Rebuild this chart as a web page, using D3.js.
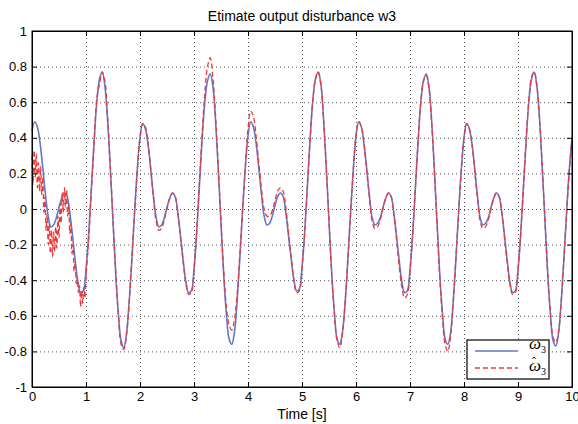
<!DOCTYPE html>
<html>
<head>
<meta charset="utf-8">
<script src="https://cdn.jsdelivr.net/npm/d3@7"></script>
<style>
    body { margin: 0; background: #fff; }
    text { font-family: "Liberation Sans", Arial, sans-serif; }
</style>
</head>
<body>
<div id="chart"></div>
<script>

// ---- data ----
let xTicks = [0, 1, 2, 3, 4, 5, 6, 7, 8, 9, 10];
let yTicks = [-1, -0.8, -0.6, -0.4, -0.2, 0, 0.2, 0.4, 0.6, 0.8, 1];

// true disturbance w3, sampled every 0.05 s from 0 to 10
let w3 = [
    0.44, 0.49, 0.46, 0.37, 0.23, 0.08, -0.04, -0.10, -0.09, -0.05,
    0.01, 0.06, 0.09, 0.07, -0.02, -0.15, -0.29, -0.41, -0.47, -0.46,
    -0.34, -0.14, 0.12, 0.38, 0.60, 0.73, 0.77, 0.69, 0.50, 0.23,
    -0.07, -0.36, -0.59, -0.74, -0.78, -0.70, -0.52, -0.28, -0.02, 0.22,
    0.40, 0.48, 0.45, 0.36, 0.22, 0.07, -0.05, -0.10, -0.09, -0.05,
    0.01, 0.06, 0.09, 0.07, -0.02, -0.15, -0.29, -0.41, -0.47, -0.46,
    -0.34, -0.13, 0.13, 0.39, 0.60, 0.72, 0.76, 0.69, 0.49, 0.22,
    -0.08, -0.37, -0.59, -0.73, -0.76, -0.69, -0.51, -0.27, -0.01, 0.23,
    0.41, 0.49, 0.46, 0.37, 0.23, 0.08, -0.04, -0.09, -0.08, -0.04,
    0.02, 0.07, 0.09, 0.07, -0.02, -0.15, -0.28, -0.40, -0.46, -0.45,
    -0.33, -0.13, 0.13, 0.39, 0.61, 0.73, 0.77, 0.70, 0.50, 0.23,
    -0.07, -0.36, -0.58, -0.73, -0.76, -0.69, -0.52, -0.28, -0.02, 0.22,
    0.41, 0.49, 0.46, 0.36, 0.22, 0.07, -0.05, -0.09, -0.08, -0.05,
    0.01, 0.06, 0.09, 0.07, -0.02, -0.15, -0.29, -0.41, -0.47, -0.46,
    -0.34, -0.14, 0.12, 0.38, 0.60, 0.72, 0.76, 0.69, 0.50, 0.23,
    -0.07, -0.36, -0.58, -0.73, -0.76, -0.70, -0.52, -0.28, -0.02, 0.22,
    0.40, 0.48, 0.45, 0.36, 0.22, 0.07, -0.05, -0.09, -0.08, -0.05,
    0.01, 0.06, 0.09, 0.07, -0.02, -0.15, -0.29, -0.41, -0.47, -0.46,
    -0.34, -0.14, 0.12, 0.38, 0.60, 0.73, 0.77, 0.69, 0.50, 0.23,
    -0.07, -0.36, -0.59, -0.74, -0.77, -0.70, -0.52, -0.28, -0.02, 0.22,
    0.40
];

// estimate, noisy start: every 0.02 s from 0 to 0.98
let w3HatStart = [
    0.30, 0.14, 0.33, 0.18, 0.31, 0.12, 0.26, 0.10, 0.24, 0.08,
    0.18, -0.02, 0.07, -0.12, -0.03, -0.20, -0.08, -0.25, -0.12, -0.27,
    -0.13, -0.24, -0.10, -0.22, -0.04, -0.16, 0.03, -0.08, 0.09, -0.02,
    0.12, 0.01, 0.11, -0.04, 0.02, -0.14, -0.08, -0.25, -0.20, -0.35,
    -0.30, -0.42, -0.38, -0.47, -0.43, -0.55, -0.46, -0.53, -0.44, -0.50
];

// estimate afterwards: every 0.05 s from 1 to 10
let w3Hat = [
    -0.38, -0.17, 0.10, 0.37, 0.62, 0.70, 0.77, 0.72, 0.52, 0.24,
    -0.06, -0.35, -0.60, -0.76, -0.79, -0.71, -0.52, -0.27, -0.01, 0.22,
    0.40, 0.48, 0.46, 0.37, 0.22, 0.06, -0.07, -0.12, -0.11, -0.06,
    0.00, 0.06, 0.09, 0.07, -0.02, -0.16, -0.30, -0.42, -0.48, -0.47,
    -0.34, -0.12, 0.15, 0.42, 0.65, 0.80, 0.85, 0.74, 0.52, 0.23,
    -0.07, -0.35, -0.55, -0.65, -0.68, -0.62, -0.47, -0.25, 0.00, 0.24,
    0.45, 0.55, 0.52, 0.41, 0.26, 0.11, 0.00, -0.04, -0.04, -0.01,
    0.05, 0.10, 0.12, 0.10, 0.01, -0.13, -0.27, -0.40, -0.47, -0.46,
    -0.33, -0.13, 0.13, 0.39, 0.61, 0.73, 0.77, 0.70, 0.50, 0.23,
    -0.07, -0.37, -0.59, -0.74, -0.78, -0.70, -0.52, -0.28, -0.02, 0.22,
    0.41, 0.49, 0.46, 0.36, 0.21, 0.06, -0.07, -0.11, -0.10, -0.06,
    0.00, 0.06, 0.09, 0.07, -0.03, -0.17, -0.32, -0.44, -0.50, -0.48,
    -0.35, -0.14, 0.12, 0.38, 0.60, 0.72, 0.75, 0.68, 0.49, 0.22,
    -0.08, -0.38, -0.61, -0.76, -0.80, -0.72, -0.53, -0.28, -0.02, 0.22,
    0.40, 0.48, 0.45, 0.36, 0.21, 0.06, -0.07, -0.11, -0.10, -0.06,
    0.00, 0.06, 0.09, 0.07, -0.02, -0.16, -0.30, -0.42, -0.48, -0.47,
    -0.34, -0.14, 0.12, 0.38, 0.61, 0.74, 0.77, 0.69, 0.50, 0.23,
    -0.07, -0.36, -0.58, -0.72, -0.75, -0.69, -0.52, -0.28, -0.02, 0.22,
    0.39
];

// pair values with their sample times
let trueData = w3.map((v, i) => ({t: i * 0.05, v: v}));
let estData = w3HatStart.map((v, i) => ({t: i * 0.02, v: v}))
    .concat(w3Hat.map((v, i) => ({t: 1 + i * 0.05, v: v})));

// ---- drawing ----
let margin = {top: 31, right: 6, bottom: 37, left: 32};
let width = 578 - margin.left - margin.right;
let height = 424 - margin.top - margin.bottom;

let svg = d3.select("#chart").append("svg")
    .attr("width", 578)
    .attr("height", 424)
    .append("g")
    .attr("transform", `translate(${margin.left}, ${margin.top})`);

let x = d3.scaleLinear().domain([0, 10]).range([0, width]);
let y = d3.scaleLinear().domain([-1, 1]).range([height, 0]);

let fmt = d => String(+d.toFixed(1));

// dotted grid
svg.append("g")
    .attr("class", "grid")
    .attr("transform", `translate(0, ${height})`)
    .call(d3.axisBottom(x).tickValues(xTicks.slice(1, -1)).tickSize(-height).tickFormat(""))
    .call(g => g.select(".domain").remove());
svg.append("g")
    .attr("class", "grid")
    .call(d3.axisLeft(y).tickValues(yTicks.slice(1, -1)).tickSize(-width).tickFormat(""))
    .call(g => g.select(".domain").remove());
svg.selectAll(".grid line")
    .attr("stroke", "#555")
    .attr("stroke-width", 1)
    .attr("stroke-dasharray", "1,3");

// curves
let line = d3.line()
    .x(d => x(d.t))
    .y(d => y(d.v))
    .curve(d3.curveCatmullRom.alpha(0.5));

svg.append("path")
    .datum(trueData)
    .attr("fill", "none")
    .attr("stroke", "#6676c8")
    .attr("stroke-width", 1.6)
    .attr("d", line);

svg.append("path")
    .datum(estData)
    .attr("fill", "none")
    .attr("stroke", "#ee3838")
    .attr("stroke-width", 1.3)
    .attr("stroke-dasharray", "5,3")
    .attr("d", line);

// axes with inward ticks on all sides
let xAxisGroup = svg.append("g")
    .attr("transform", `translate(0, ${height})`)
    .call(d3.axisBottom(x).tickValues(xTicks).tickSizeInner(-5).tickSizeOuter(0).tickPadding(5).tickFormat(fmt));
let yAxisGroup = svg.append("g")
    .call(d3.axisLeft(y).tickValues(yTicks).tickSizeInner(-5).tickSizeOuter(0).tickPadding(5).tickFormat(fmt));
svg.append("g")
    .call(d3.axisTop(x).tickValues(xTicks).tickSizeInner(-5).tickSizeOuter(0).tickFormat(""));
svg.append("g")
    .attr("transform", `translate(${width}, 0)`)
    .call(d3.axisRight(y).tickValues(yTicks).tickSizeInner(-5).tickSizeOuter(0).tickFormat(""));

svg.selectAll(".tick text")
    .style("font-size", "13px")
    .style("font-family", '"Liberation Sans", Arial, sans-serif')
    .attr("fill", "#000");
svg.selectAll(".domain, .tick line:not(.grid .tick line)").attr("stroke", "#000");

svg.append("rect")
    .attr("width", width)
    .attr("height", height)
    .attr("fill", "none")
    .attr("stroke", "#000")
    .attr("stroke-width", 1);

// title and label
svg.append("text")
    .attr("x", width / 2)
    .attr("y", -10)
    .attr("text-anchor", "middle")
    .style("font-size", "14px")
    .text("Etimate output disturbance w3");

svg.append("text")
    .attr("x", width / 2)
    .attr("y", height + 32)
    .attr("text-anchor", "middle")
    .style("font-size", "14px")
    .text("Time [s]");

// legend
let legend = svg.append("g")
    .attr("transform", `translate(${435}, ${309})`);

legend.append("rect")
    .attr("width", 82)
    .attr("height", 39)
    .attr("fill", "#fff")
    .attr("stroke", "#000")
    .attr("stroke-width", 1.2);

legend.append("line")
    .attr("x1", 8).attr("x2", 51)
    .attr("y1", 11).attr("y2", 11)
    .attr("stroke", "#6676c8")
    .attr("stroke-width", 1.6);

legend.append("line")
    .attr("x1", 8).attr("x2", 51)
    .attr("y1", 28).attr("y2", 28)
    .attr("stroke", "#ee3838")
    .attr("stroke-width", 1.3)
    .attr("stroke-dasharray", "5,3");

let lab1 = legend.append("text")
    .attr("x", 62).attr("y", 9)
    .style("font-family", '"Liberation Serif", "Times New Roman", serif')
    .style("font-style", "italic")
    .style("font-size", "17px");
lab1.append("tspan").text("ω");
lab1.append("tspan").attr("dy", 4).style("font-size", "10px").style("font-style", "normal").text("3");

let lab2 = legend.append("text")
    .attr("x", 62).attr("y", 31)
    .style("font-family", '"Liberation Serif", "Times New Roman", serif')
    .style("font-style", "italic")
    .style("font-size", "17px");
lab2.append("tspan").text("ω");
lab2.append("tspan").attr("dy", 4).style("font-size", "10px").style("font-style", "normal").text("3");

legend.append("text")
    .attr("x", 67).attr("y", 26)
    .attr("text-anchor", "middle")
    .style("font-family", '"Liberation Serif", "Times New Roman", serif')
    .style("font-size", "12px")
    .text("ˆ");

</script>
</body>
</html>
